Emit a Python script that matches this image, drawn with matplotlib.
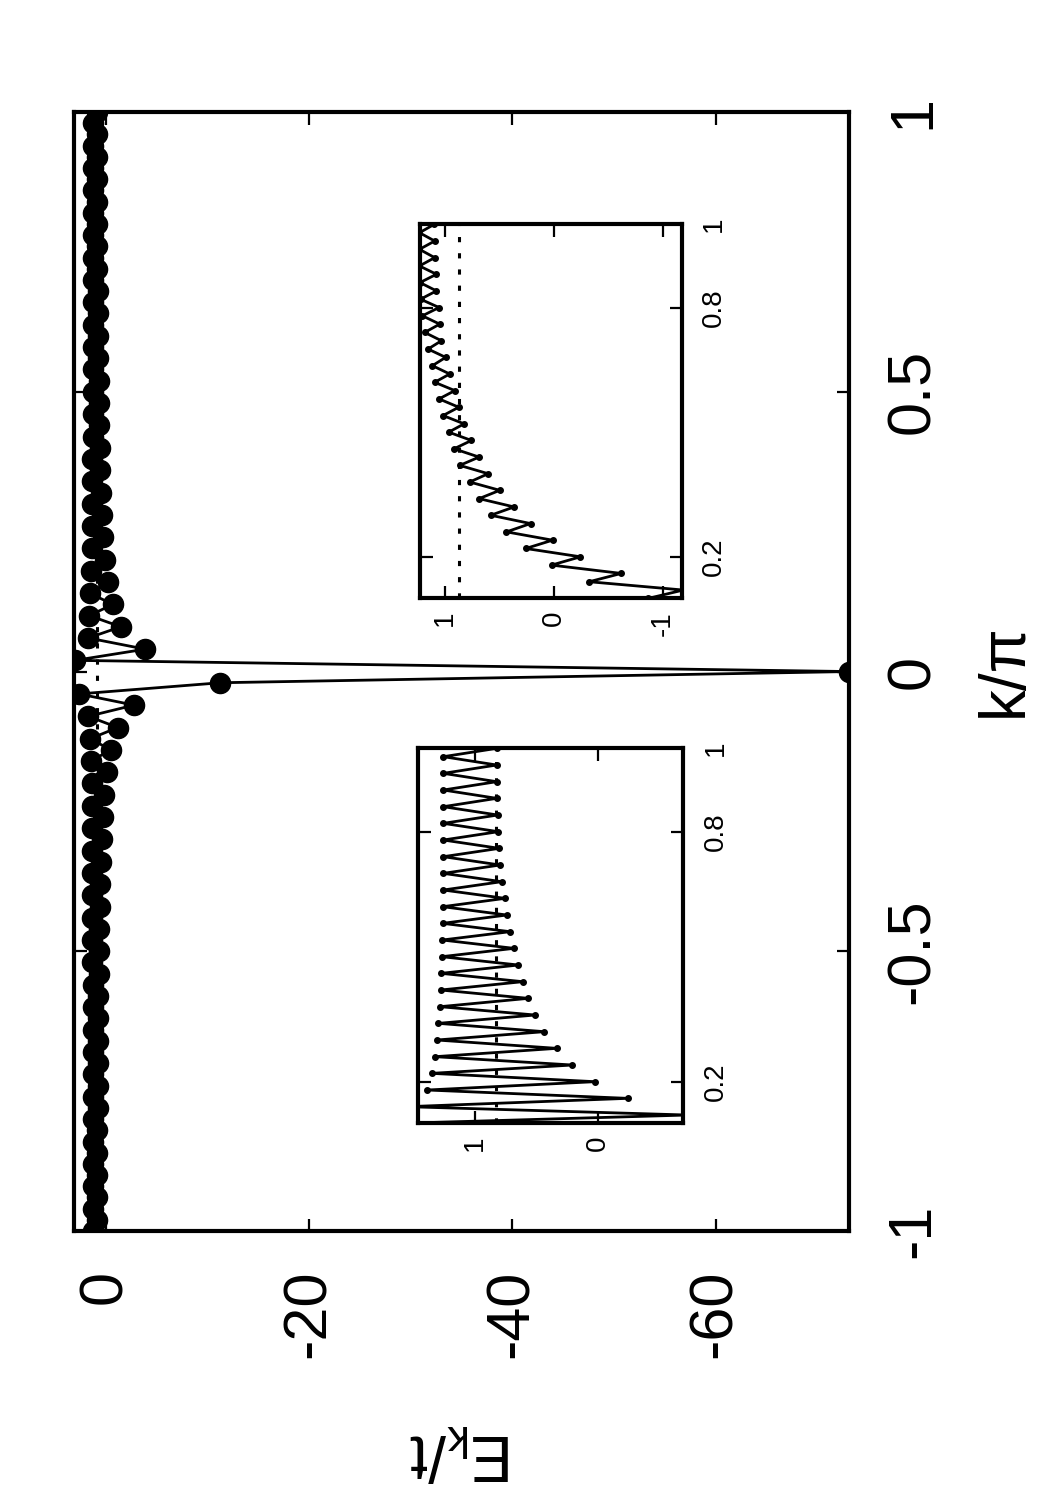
import numpy as np
import matplotlib
matplotlib.use("Agg")
import matplotlib.pyplot as plt

plt.rcParams['font.family'] = ['Liberation Sans', 'DejaVu Sans']
plt.rcParams['mathtext.default'] = 'regular'
plt.rcParams['axes.unicode_minus'] = False

# main curve: E_k/t on the grid k/pi = -1 ... 1 (step 0.02)
k_main = np.linspace(-1.0, 1.0, 101)
E_neg = [1.26, 0.82, 1.26, 0.82, 1.26, 0.815, 1.26, 0.81, 1.265, 0.80,
         1.265, 0.79, 1.27, 0.78, 1.27, 0.76, 1.27, 0.74, 1.275, 0.72,
         1.28, 0.70, 1.28, 0.67, 1.285, 0.64, 1.29, 0.61, 1.29, 0.57,
         1.30, 0.52, 1.31, 0.46, 1.32, 0.38, 1.33, 0.28, 1.35, 0.12,
         1.38, -0.15, 1.42, -0.5, 1.5, -1.2, 1.7, -2.8, 2.6, -11.3]
E_zero = [-73.1]
E_pos = [3.0, -3.9, 1.7, -1.5, 1.6, -0.72, 1.55, -0.238, 1.387, 0.027,
         1.351, 0.21, 1.324, 0.337, 1.31, 0.438, 1.297, 0.513, 1.284, 0.568,
         1.278, 0.613, 1.275, 0.649, 1.27, 0.684, 1.265, 0.716, 1.262, 0.743,
         1.262, 0.757, 1.257, 0.784, 1.257, 0.797, 1.257, 0.803, 1.257, 0.811,
         1.257, 0.816, 1.257, 0.824, 1.257, 0.824, 1.257, 0.824, 1.257, 0.824]
E_main = np.array(E_neg + E_zero + E_pos)
E_ref_main = 0.83

# upper inset: second data set, k/pi = 0.1 ... 1
k_ins1 = np.linspace(0.1, 1.0, 46)
E_ins1 = [-0.87, -1.19, -0.325, -0.62, 0.021, -0.245, 0.258, 0.012, 0.435, 0.214,
          0.58, 0.365, 0.687, 0.497, 0.773, 0.604, 0.865, 0.687, 0.917, 0.757,
          0.966, 0.825, 1.018, 0.874, 1.055, 0.91, 1.095, 0.957, 1.116, 0.994,
          1.156, 1.033, 1.187, 1.049, 1.208, 1.055, 1.225, 1.079, 1.23, 1.079,
          1.235, 1.095, 1.235, 1.095, 1.235, 1.10]
E_ref_ins1 = 0.874

# lower inset: zoom of the main curve for k/pi >= 0.1
sel = k_main >= 0.099
k_ins2 = k_main[sel]
E_ins2 = E_main[sel]

fig = plt.figure(figsize=(10.5, 15), dpi=100)

ax = fig.add_axes([0.0705, 0.1793, 0.738, 0.746])
ax.plot(E_main, k_main, '-o', color='black', lw=2.0, ms=14.5, zorder=3)
ax.axvline(E_ref_main, color='black', lw=2.2, ls=(0, (1.7, 3.6)), zorder=2)
ax.set_xlim(3.1, -73.1)
ax.set_ylim(-1, 1)
ax.set_xticks([0, -20, -40, -60])
ax.set_xticklabels(['0', '-20', '-40', '-60'], rotation=90)
ax.set_yticks([-1, -0.5, 0, 0.5, 1])
ax.set_yticklabels(['-1', '-0.5', '0', '0.5', '1'], rotation=90, va='center')
ax.yaxis.tick_right()
ax.tick_params(axis='both', direction='in', length=9, width=1.6,
               top=True, bottom=True, left=True, right=True, labelsize=44)
ax.tick_params(axis='x', pad=28)
ax.tick_params(axis='y', pad=26)
for sp in ax.spines.values():
    sp.set_linewidth(3.0)

fig.text(1005 / 1050, 1 - 670 / 1500, 'k/π', rotation=90, fontsize=46,
         ha='center', va='center')
fig.text(462 / 1050, 1 - 1452 / 1500, 'E$_k$/t', rotation=180, fontsize=46,
         ha='center', va='center')


def inset(rect, k, E, eref, xlim, xticks):
    a = fig.add_axes(rect)
    a.plot(E, k, '-o', color='black', lw=2.0, ms=4.0, zorder=3)
    a.axvline(eref, color='black', lw=2.2, ls=(0, (1.7, 3.6)), zorder=2)
    a.set_xlim(*xlim)
    a.set_ylim(0.1, 1.0)
    a.set_xticks(xticks)
    a.set_xticklabels([str(t) for t in xticks], rotation=90)
    a.set_yticks([0.2, 0.8, 1])
    a.set_yticklabels(['0.2', '0.8', '1'], rotation=90, va='center')
    a.yaxis.tick_right()
    a.tick_params(axis='both', direction='in', length=9, width=1.6,
                  top=True, bottom=True, left=True, right=True, labelsize=20)
    a.tick_params(axis='x', pad=9)
    a.tick_params(axis='y', pad=14)
    for sp in a.spines.values():
        sp.set_linewidth(3.0)
    return a


inset([0.4, 0.6011, 0.2492, 0.2493], k_ins1, E_ins1, E_ref_ins1,
      (1.23, -1.175), [1, 0, -1])
inset([0.3984, 0.2511, 0.2524, 0.25], k_ins2, E_ins2, E_ref_main,
      (1.46, -0.69), [1, 0])

fig.savefig('out.png', dpi=100)
